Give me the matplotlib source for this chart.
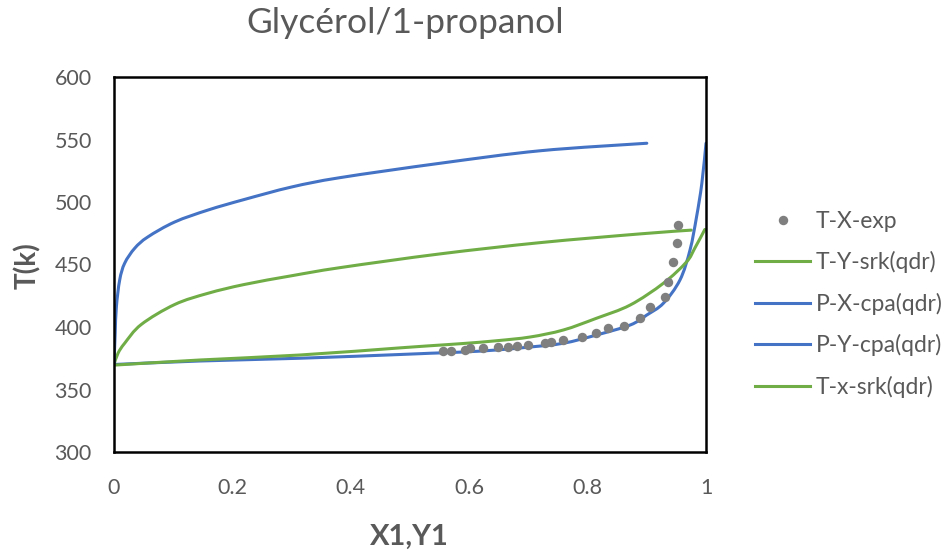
import matplotlib
matplotlib.use("Agg")
import matplotlib.pyplot as plt
import numpy as np
from matplotlib.path import Path
from matplotlib.patches import PathPatch
from matplotlib.lines import Line2D

plt.rcParams['font.family'] = ['Lato', 'DejaVu Sans']

# experimental T-x data
exp_x = [0.556, 0.570, 0.593, 0.601, 0.624, 0.649, 0.666, 0.680, 0.700, 0.728,
         0.739, 0.758, 0.790, 0.814, 0.835, 0.861, 0.889, 0.905, 0.931, 0.935,
         0.944, 0.951, 0.953]
exp_T = [381, 381, 382, 383, 383, 384.3, 384.3, 385, 386, 387,
         388.3, 390, 392.3, 395, 399, 400.8, 407, 416.3, 424.3, 436.2,
         451.8, 467.4, 481.6]

# T-Y-srk(qdr)
ty_srk_x = [0, 0.0068, 0.018, 0.046, 0.1025, 0.159, 0.22, 0.3, 0.382, 0.551, 0.72, 0.889, 0.975]
ty_srk_T = [370, 379, 387, 402, 418, 427, 434, 441, 447.5, 458.5, 467.5, 474.5, 477.5]

# P-X-cpa(qdr)
px_cpa_x = [0, 0.145, 0.314, 0.483, 0.534, 0.59, 0.646, 0.703, 0.759, 0.815,
            0.872, 0.9, 0.928, 0.956, 0.973, 0.984, 0.993, 1.0]
px_cpa_T = [370, 372.8, 375, 378, 379, 380, 381.6, 384, 387, 393.6,
            401.6, 409.6, 419, 437.6, 461.6, 488, 515, 547]

# P-Y-cpa(qdr)
py_cpa_x = [0, 0.002, 0.004, 0.0096, 0.018, 0.035, 0.057, 0.1025, 0.159, 0.22, 0.3, 0.382, 0.551, 0.72, 0.9]
py_cpa_T = [370, 395, 416, 437.6, 451, 463, 472, 484, 493.6, 502, 512, 519.5, 531, 541, 547]

# T-x-srk(qdr)
tx_srk_x = [0, 0.145, 0.314, 0.483, 0.534, 0.59, 0.646, 0.703, 0.759, 0.815, 0.872, 0.928, 0.967, 0.981, 0.998]
tx_srk_T = [369.5, 373.6, 377.6, 383.3, 385, 386.8, 389, 392, 397.6, 407, 417.6, 435, 452, 463, 478]

x_ticks = [0, 0.2, 0.4, 0.6, 0.8, 1]
x_tick_labels = ['0', '0.2', '0.4', '0.6', '0.8', '1']
y_ticks = [300, 350, 400, 450, 500, 550, 600]

BLUE = '#4472C4'
GREEN = '#70AD47'
GRAY = '#7F7F7F'
TXT = '#595959'
LW = 2.2

W, H = 948, 551
fig = plt.figure(figsize=(W / 100, H / 100), dpi=100)
ax = fig.add_axes([114 / W, 1 - 452 / H, (706 - 114) / W, (452 - 77) / H])
ax.set_xlim(0, 1)
ax.set_ylim(300, 600)


def smooth_line(ax, xs, ys, color):
    """Excel-style smoothed line through the data points (cubic Bezier)."""
    x0, x1 = ax.get_xlim()
    y0, y1 = ax.get_ylim()
    sx = (706 - 114) / (x1 - x0)
    sy = (452 - 77) / (y1 - y0)
    p = np.column_stack([(np.asarray(xs) - x0) * sx, (np.asarray(ys) - y0) * sy])
    n = len(p)
    verts = [p[0]]
    codes = [Path.MOVETO]
    for i in range(n - 1):
        pp = p[i - 1] if i > 0 else p[i]
        pn = p[i + 2] if i + 2 < n else p[i + 1]
        c1 = p[i] + (p[i + 1] - pp) / 6.0
        c2 = p[i + 1] - (pn - p[i]) / 6.0
        verts += [c1, c2, p[i + 1]]
        codes += [Path.CURVE4] * 3
    v = np.array(verts)
    v[:, 0] = v[:, 0] / sx + x0
    v[:, 1] = v[:, 1] / sy + y0
    patch = PathPatch(Path(v, codes), facecolor='none', edgecolor=color,
                      lw=LW, capstyle='round', joinstyle='round', zorder=2)
    ax.add_patch(patch)


ax.plot(exp_x, exp_T, 'o', color=GRAY, markersize=6.8, markeredgewidth=0, zorder=3)
smooth_line(ax, ty_srk_x, ty_srk_T, GREEN)
smooth_line(ax, px_cpa_x, px_cpa_T, BLUE)
smooth_line(ax, py_cpa_x, py_cpa_T, BLUE)
smooth_line(ax, tx_srk_x, tx_srk_T, GREEN)

ax.set_xticks(x_ticks)
ax.set_xticklabels(x_tick_labels)
ax.set_yticks(y_ticks)
ax.tick_params(length=0, labelsize=15.5, labelcolor=TXT)
ax.tick_params(axis='x', pad=19)
ax.tick_params(axis='y', pad=16)
for s in ax.spines.values():
    s.set_color('black')
    s.set_linewidth(1.8)

ax.set_xlabel('X1,Y1', fontsize=21, fontweight='bold', color=TXT)
ax.xaxis.set_label_coords((409 - 114) / 592, -(537 - 452) / 375)
ax.xaxis.label.set_va('center')
ax.set_ylabel('T(k)', fontsize=20, fontweight='bold', color=TXT)
ax.yaxis.set_label_coords((27.5 - 114) / 592, (452 - 266) / 375)
ax.yaxis.label.set_va('center')

fig.text(405 / W, 1 - 33 / H, 'Glycérol/1-propanol', fontsize=25.5, color=TXT,
         ha='center', va='baseline')

handles = [
    Line2D([], [], marker='o', ls='none', color=GRAY, markersize=6.8, markeredgewidth=0),
    Line2D([], [], color=GREEN, lw=LW),
    Line2D([], [], color=BLUE, lw=LW),
    Line2D([], [], color=BLUE, lw=LW),
    Line2D([], [], color=GREEN, lw=LW),
]
labels = ['T-X-exp', 'T-Y-srk(qdr)', 'P-X-cpa(qdr)', 'P-Y-cpa(qdr)', 'T-x-srk(qdr)']
leg = fig.legend(handles, labels, loc='upper left', bbox_to_anchor=(755 / W, 1 - 211 / H),
                 frameon=False, fontsize=16.5, labelspacing=0.846,
                 handlelength=2.4, handletextpad=0.26, borderpad=0,
                 borderaxespad=0)
for t in leg.get_texts():
    t.set_color(TXT)

fig.savefig('out.png', dpi=100)
